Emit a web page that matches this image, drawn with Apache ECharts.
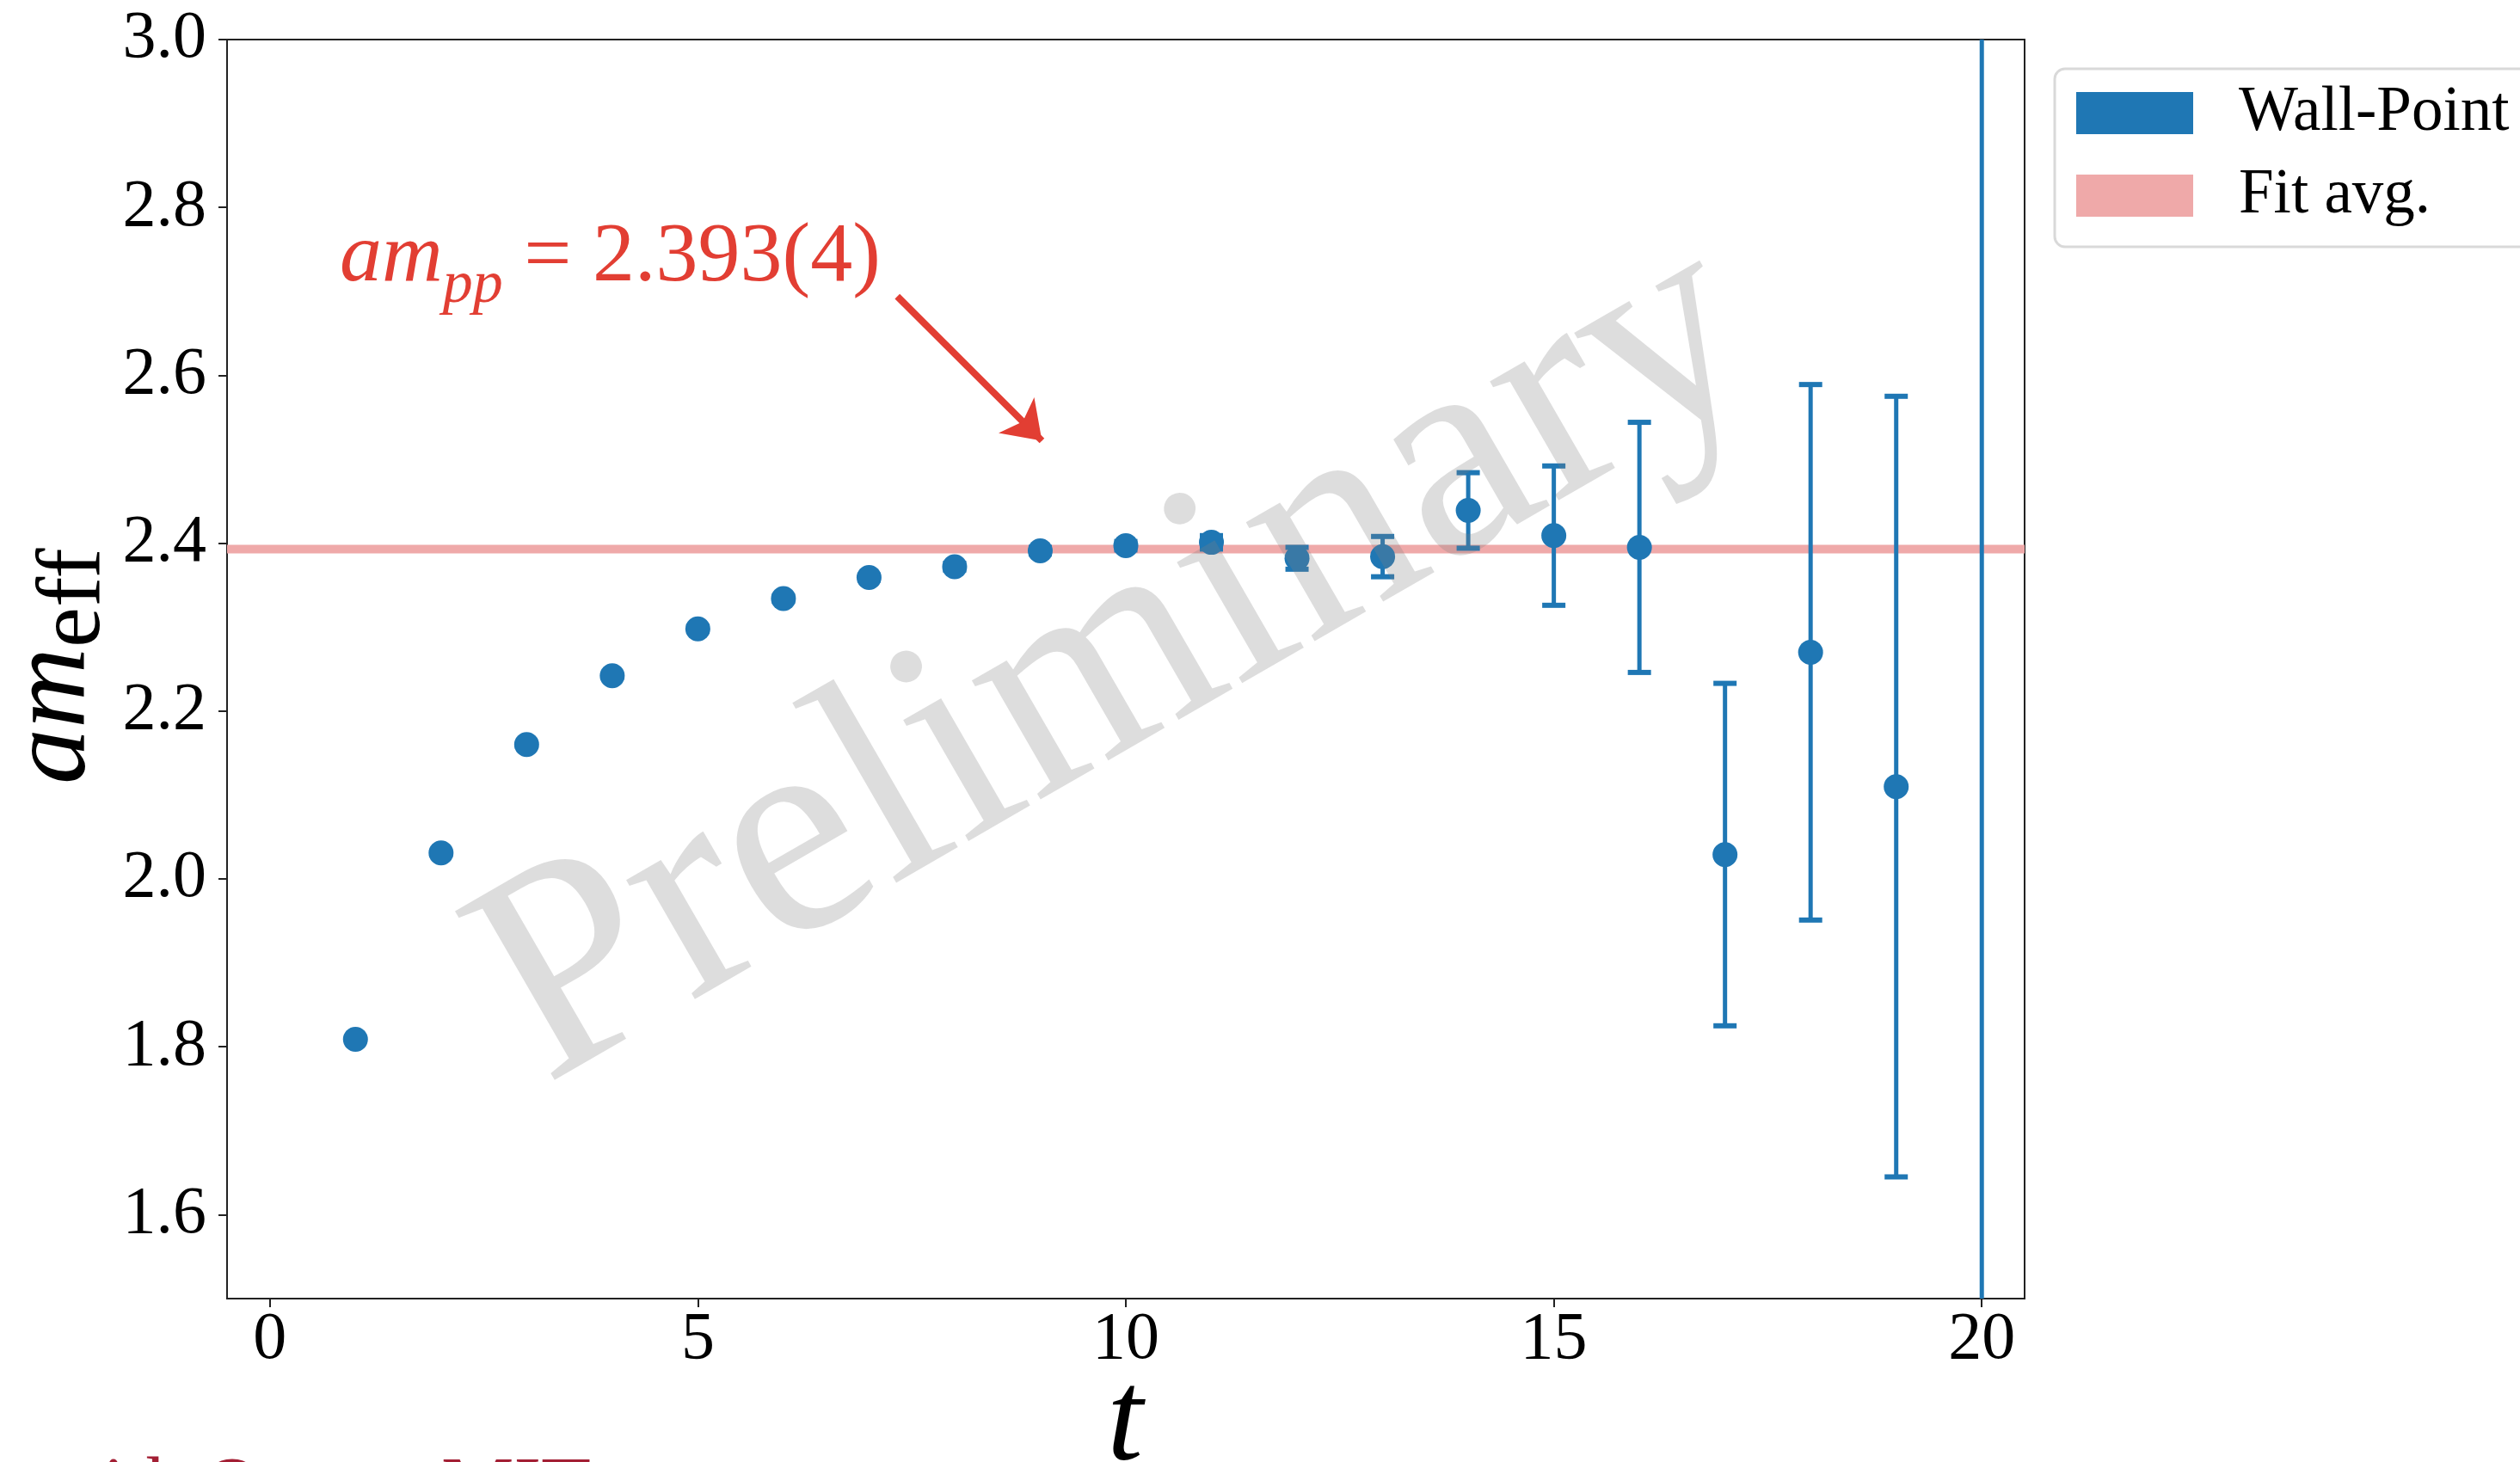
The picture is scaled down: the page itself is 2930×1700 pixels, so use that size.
<!DOCTYPE html>
<html>
<head>
<meta charset="utf-8">
<script src="https://cdn.jsdelivr.net/npm/echarts@6/dist/echarts.min.js"></script>
<style>
  html, body { margin: 0; padding: 0; background: #fff; }
  #chart { width: 2930px; height: 1700px; }
</style>
</head>
<body>
<div id="chart"></div>
<script>
// ---- data ----
const tValues = [1, 2, 3, 4, 5, 6, 7, 8, 9, 10, 11, 12, 13, 14, 15, 16, 17, 18, 19, 20];
const amEff = [1.809, 2.031, 2.160, 2.242, 2.298, 2.334, 2.359, 2.372, 2.391, 2.397,
               2.401, 2.382, 2.384, 2.439, 2.409, 2.395, 2.029, 2.270, 2.110, 3.300];
const amErr = [0.001, 0.002, 0.002, 0.002, 0.003, 0.003, 0.003, 0.004, 0.004, 0.005,
               0.008, 0.013, 0.024, 0.045, 0.083, 0.149, 0.204, 0.319, 0.465, 2.500];
const fitAvg = 2.393;
const xTicks = [0, 5, 10, 15, 20];
const yTicks = [1.6, 1.8, 2.0, 2.2, 2.4, 2.6, 2.8, 3.0];
const xRange = [-0.5, 20.5];
const yRange = [1.5, 3.0];
const arrowFrom = [7.33, 2.694];
const arrowTo = [9.02, 2.522];
const annotationValue = '2.393(4)';
const xAxisTitle = 't';
const yAxisTitle = ['am', 'eff'];

const BLUE = '#1f77b4';
const PINK = '#efa9a9';
const RED = '#e23e33';
const SERIF = 'Liberation Serif';

const pointData = tValues.map((t, i) => [t, amEff[i]]);
const errData = tValues.map((t, i) => [t, amEff[i], amErr[i]]);

const chart = echarts.init(document.getElementById('chart'));

const option = {
  backgroundColor: '#ffffff',
  animation: false,
  textStyle: { fontFamily: SERIF },
  grid: { left: 264, top: 46, width: 2090, height: 1464, outerBoundsMode: 'none', containLabel: false,
          show: true, borderColor: '#222', borderWidth: 2, backgroundColor: 'transparent' },
  xAxis: {
    type: 'value', min: xRange[0], max: xRange[1],
    axisLine: { show: true, onZero: false, lineStyle: { color: '#222', width: 2 } },
    axisTick: { show: true, length: 10, lineStyle: { color: '#222', width: 2 }, customValues: xTicks },
    axisLabel: { fontFamily: SERIF, fontSize: 78, color: '#000', margin: 10, customValues: xTicks,
      formatter: v => String(v) },
    splitLine: { show: false }
  },
  yAxis: {
    type: 'value', min: yRange[0], max: yRange[1],
    axisLine: { show: true, onZero: false, lineStyle: { color: '#222', width: 2 } },
    axisTick: { show: true, length: 10, lineStyle: { color: '#222', width: 2 }, customValues: yTicks },
    axisLabel: { fontFamily: SERIF, fontSize: 78, color: '#000', margin: 24, customValues: yTicks,
      formatter: v => v.toFixed(1) },
    splitLine: { show: false }
  },
  legend: {
    data: [{ name: 'Wall-Point', icon: 'rect' }, { name: 'Fit avg.', icon: 'rect' }],
    orient: 'vertical', left: 2389, top: 80,
    itemWidth: 136, itemHeight: 49, itemGap: 23,
    padding: [15, 40, 23, 25],
    backgroundColor: '#fff', borderColor: '#d9d9d9', borderWidth: 3, borderRadius: 12,
    textStyle: { fontFamily: SERIF, fontSize: 73, color: '#000', padding: [8, 0, 0, 48] }
  },
  series: [
    {
      name: 'Fit avg.', type: 'line', z: 1,
      data: [[xRange[0], fitAvg], [xRange[1], fitAvg]],
      symbol: 'none', lineStyle: { color: PINK, width: 10 }, itemStyle: { color: PINK },
      silent: true,
      markLine: {
        silent: true, symbol: ['none', 'arrow'], symbolSize: [44, 42],
        lineStyle: { color: RED, width: 8, type: 'solid' },
        label: { show: false },
        data: [[{ coord: arrowFrom }, { coord: arrowTo }]]
      }
    },
    {
      name: 'errorbars', type: 'custom', z: 2, clip: true,
      data: errData,
      renderItem: function (params, api) {
        const x = api.value(0), y = api.value(1), e = api.value(2);
        const top = api.coord([x, y + e]);
        const bot = api.coord([x, y - e]);
        const cw = 13.5;
        const st = { stroke: BLUE, lineWidth: 5 };
        const cs = { stroke: BLUE, lineWidth: 6 };
        return {
          type: 'group',
          children: [
            { type: 'line', shape: { x1: top[0], y1: top[1], x2: bot[0], y2: bot[1] }, style: st },
            { type: 'line', shape: { x1: top[0] - cw, y1: top[1], x2: top[0] + cw, y2: top[1] }, style: cs },
            { type: 'line', shape: { x1: bot[0] - cw, y1: bot[1], x2: bot[0] + cw, y2: bot[1] }, style: cs }
          ]
        };
      }
    },
    {
      name: 'Wall-Point', type: 'scatter', z: 3, clip: true,
      data: pointData, symbol: 'circle', symbolSize: 29,
      itemStyle: { color: BLUE, opacity: 1 }
    }
  ],
  graphic: [
    // x axis title
    {
      type: 'text', x: 1308, y: 1583, z: 50,
      style: { text: xAxisTitle, fontFamily: SERIF, fontStyle: 'italic', fontSize: 150, fill: '#000',
               align: 'center', verticalAlign: 'top' }
    },
    // y axis title (rotated)
    {
      type: 'text', x: -1, y: 912, rotation: Math.PI / 2, z: 50,
      style: {
        text: '{a|' + yAxisTitle[0] + '}{b|' + yAxisTitle[1] + '}',
        align: 'left', verticalAlign: 'top',
        rich: {
          a: { fontFamily: SERIF, fontStyle: 'italic', fontSize: 130, lineHeight: 100, verticalAlign: 'top', fill: '#000' },
          b: { fontFamily: SERIF, fontStyle: 'normal', fontSize: 106, lineHeight: 100, verticalAlign: 'top', padding: [35, 0, 0, 0], fill: '#000' }
        }
      }
    },
    // annotation
    {
      type: 'text', x: 395, y: 251, z: 50,
      style: {
        text: '{a|am}{s|pp}{n| = ' + annotationValue + '}',
        align: 'left', verticalAlign: 'top',
        rich: {
          a: { fontFamily: SERIF, fontStyle: 'italic', fontSize: 98, lineHeight: 98, verticalAlign: 'top', fill: RED },
          s: { fontFamily: SERIF, fontStyle: 'italic', fontSize: 70, lineHeight: 70, verticalAlign: 'top', padding: [47, 0, 0, 0], fill: RED },
          n: { fontFamily: SERIF, fontSize: 98, lineHeight: 98, verticalAlign: 'top', fill: RED }
        }
      }
    },
    // watermark
    {
      type: 'text', x: 1300, y: 772, rotation: Math.PI / 6, z: 100, silent: true,
      style: {
        text: 'Preliminary', align: 'center', verticalAlign: 'middle',
        fontFamily: SERIF, fontSize: 348, fill: 'rgba(128,128,128,0.27)'
      }
    },
    // footer (clipped at bottom edge)
    {
      type: 'text', x: 55, y: 1688, z: 50,
      style: { text: 'with Q', fontFamily: SERIF, fontSize: 90, fill: '#a31f34', align: 'left', verticalAlign: 'top' }
    },
    {
      type: 'text', x: 513, y: 1688, z: 50,
      style: { text: 'MIT', fontFamily: SERIF, fontSize: 95, fill: '#a31f34', align: 'left', verticalAlign: 'top' }
    }
  ]
};

chart.setOption(option);
</script>
</body>
</html>
